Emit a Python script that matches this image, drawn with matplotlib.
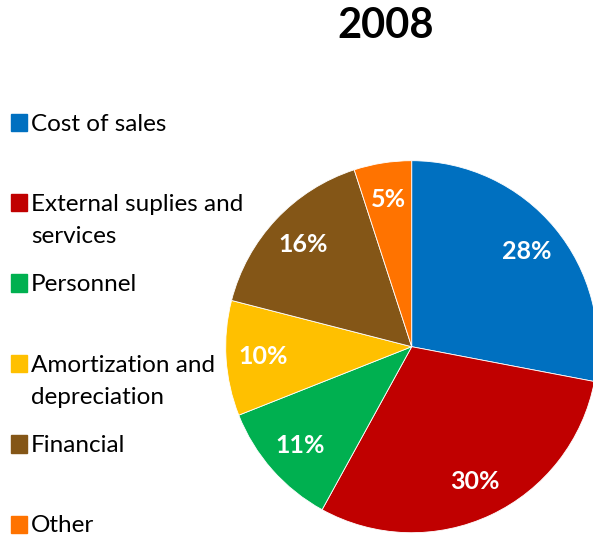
import matplotlib
matplotlib.use("Agg")
import matplotlib.pyplot as plt
from matplotlib.patches import Rectangle

categories = ["Cost of sales", "External suplies and\nservices", "Personnel",
              "Amortization and\ndepreciation", "Financial", "Other"]
values = [28, 30, 11, 10, 16, 5]
colors = ["#0070C0", "#C00000", "#00B050", "#FFC000", "#845617", "#FF7300"]
title = "2008"

W, H = 593, 541
fig = plt.figure(figsize=(W / 100, H / 100), dpi=100)
plt.rcParams["font.family"] = ["Lato", "DejaVu Sans"]

# pie axes placed in pixel terms
cx, cy, r = 411.7, 346.7, 186.0
ax = fig.add_axes([(cx - r) / W, (H - cy - r) / H, 2 * r / W, 2 * r / H])
wedges, texts, autotexts = ax.pie(
    values, colors=colors, startangle=90, counterclock=False,
    autopct=lambda p: f"{p:.0f}%", pctdistance=0.8, radius=1.0,
    wedgeprops=dict(edgecolor="white", linewidth=0.6),
    textprops=dict(color="white", fontsize=18, fontweight="bold"))
ax.set_xlim(-1, 1)
ax.set_ylim(-1, 1)
ax.set_aspect("equal")
ax.axis("off")

fig.text(385.5 / W, 1 - 38 / H, title, ha="center", va="baseline",
         fontsize=30, fontweight="bold")

# legend drawn row by row, one text per wrapped line
row0, step, line_gap = 130.5, 80.4, 32
for i, (lab, col) in enumerate(zip(categories, colors)):
    base = row0 + i * step
    fig.patches.append(Rectangle((11 / W, 1 - (base + 0.5) / H), 15.5 / W, 17.5 / H,
                                 transform=fig.transFigure, color=col))
    for j, line in enumerate(lab.split("\n")):
        fig.text(31 / W, 1 - (base + j * line_gap) / H, line, ha="left",
                 va="baseline", fontsize=17.5, color="black")

fig.savefig("out.png", dpi=100)
